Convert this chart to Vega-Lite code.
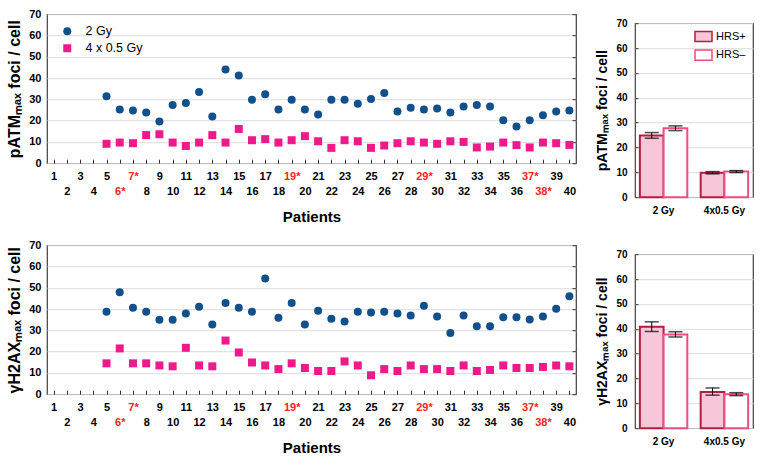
{
  "$schema": "https://vega.github.io/schema/vega-lite/v6.json",
  "padding": {"left": 6, "top": 7, "right": 0, "bottom": 0},
  "spacing": 13,
  "config": {
    "font": "Liberation Sans",
    "view": {"stroke": "#404040", "strokeWidth": 1.2},
    "axis": {
      "labelFont": "Liberation Sans",
      "labelFontWeight": "bold",
      "labelColor": "#000000",
      "labelOverlap": false,
      "titleFont": "Liberation Sans",
      "titleFontWeight": "bold",
      "titleColor": "#000000",
      "domain": false,
      "gridColor": "#dcdcdc",
      "tickColor": "#333333",
      "tickWidth": 1
    },
    "legend": {"labelFont": "Liberation Sans", "labelColor": "#000000"}
  },
  "datasets": {
    "patm": [
      {"p": 5, "single": 31.5, "fractionated": 9.1},
      {"p": 6, "single": 25.2, "fractionated": 9.7},
      {"p": 7, "single": 24.7, "fractionated": 9.4},
      {"p": 8, "single": 23.8, "fractionated": 13.2},
      {"p": 9, "single": 19.6, "fractionated": 13.6},
      {"p": 10, "single": 27.4, "fractionated": 9.7},
      {"p": 11, "single": 28.3, "fractionated": 8.1},
      {"p": 12, "single": 33.4, "fractionated": 9.7},
      {"p": 13, "single": 21.9, "fractionated": 13.2},
      {"p": 14, "single": 44.0, "fractionated": 9.7},
      {"p": 15, "single": 41.2, "fractionated": 16.1},
      {"p": 16, "single": 29.8, "fractionated": 10.8},
      {"p": 17, "single": 32.4, "fractionated": 11.3},
      {"p": 18, "single": 25.2, "fractionated": 9.7},
      {"p": 19, "single": 29.8, "fractionated": 10.8},
      {"p": 20, "single": 25.2, "fractionated": 12.7},
      {"p": 21, "single": 22.9, "fractionated": 10.3},
      {"p": 22, "single": 29.8, "fractionated": 7.2},
      {"p": 23, "single": 29.8, "fractionated": 10.8},
      {"p": 24, "single": 27.9, "fractionated": 10.3},
      {"p": 25, "single": 30.2, "fractionated": 7.2},
      {"p": 26, "single": 33.0, "fractionated": 8.3},
      {"p": 27, "single": 24.3, "fractionated": 9.4},
      {"p": 28, "single": 26.0, "fractionated": 10.3},
      {"p": 29, "single": 25.2, "fractionated": 9.7},
      {"p": 30, "single": 25.7, "fractionated": 9.1},
      {"p": 31, "single": 23.8, "fractionated": 10.3},
      {"p": 32, "single": 26.6, "fractionated": 10.0},
      {"p": 33, "single": 27.4, "fractionated": 7.4},
      {"p": 34, "single": 26.6, "fractionated": 7.8},
      {"p": 35, "single": 20.2, "fractionated": 9.7},
      {"p": 36, "single": 17.2, "fractionated": 8.5},
      {"p": 37, "single": 20.2, "fractionated": 7.4},
      {"p": 38, "single": 22.5, "fractionated": 9.7},
      {"p": 39, "single": 24.3, "fractionated": 9.4},
      {"p": 40, "single": 24.7, "fractionated": 8.6}
    ],
    "gh2ax": [
      {"p": 5, "single": 38.7, "fractionated": 14.5},
      {"p": 6, "single": 47.9, "fractionated": 21.5},
      {"p": 7, "single": 40.6, "fractionated": 14.5},
      {"p": 8, "single": 38.7, "fractionated": 14.5},
      {"p": 9, "single": 35.0, "fractionated": 13.5},
      {"p": 10, "single": 35.0, "fractionated": 13.1},
      {"p": 11, "single": 37.9, "fractionated": 21.8},
      {"p": 12, "single": 41.1, "fractionated": 13.5},
      {"p": 13, "single": 32.8, "fractionated": 13.1},
      {"p": 14, "single": 42.9, "fractionated": 25.2},
      {"p": 15, "single": 40.6, "fractionated": 19.6},
      {"p": 16, "single": 38.7, "fractionated": 14.9},
      {"p": 17, "single": 54.3, "fractionated": 13.5},
      {"p": 18, "single": 35.9, "fractionated": 11.8},
      {"p": 19, "single": 42.9, "fractionated": 14.5},
      {"p": 20, "single": 32.8, "fractionated": 12.3},
      {"p": 21, "single": 39.2, "fractionated": 10.9},
      {"p": 22, "single": 35.5, "fractionated": 10.9},
      {"p": 23, "single": 34.1, "fractionated": 15.4},
      {"p": 24, "single": 38.7, "fractionated": 13.5},
      {"p": 25, "single": 38.4, "fractionated": 8.9},
      {"p": 26, "single": 38.7, "fractionated": 11.8},
      {"p": 27, "single": 37.9, "fractionated": 10.9},
      {"p": 28, "single": 37.0, "fractionated": 13.5},
      {"p": 29, "single": 41.5, "fractionated": 11.8},
      {"p": 30, "single": 36.5, "fractionated": 11.8},
      {"p": 31, "single": 28.8, "fractionated": 10.9},
      {"p": 32, "single": 37.0, "fractionated": 13.5},
      {"p": 33, "single": 31.9, "fractionated": 10.9},
      {"p": 34, "single": 31.9, "fractionated": 11.4},
      {"p": 35, "single": 36.1, "fractionated": 13.5},
      {"p": 36, "single": 36.1, "fractionated": 12.3},
      {"p": 37, "single": 35.1, "fractionated": 12.3},
      {"p": 38, "single": 36.5, "fractionated": 12.8},
      {"p": 39, "single": 40.1, "fractionated": 13.5},
      {"p": 40, "single": 46.0, "fractionated": 13.1}
    ],
    "patmBars": [
      {"dose": "2 Gy", "group": "HRS+", "mean": 24.8, "lo": 23.7, "hi": 26.0},
      {"dose": "2 Gy", "group": "HRS–", "mean": 27.7, "lo": 26.8, "hi": 28.7},
      {"dose": "4x0.5 Gy", "group": "HRS+", "mean": 9.8, "lo": 9.4, "hi": 10.3},
      {"dose": "4x0.5 Gy", "group": "HRS–", "mean": 10.3, "lo": 9.9, "hi": 10.7}
    ],
    "gh2axBars": [
      {"dose": "2 Gy", "group": "HRS+", "mean": 40.8, "lo": 38.9, "hi": 42.8},
      {"dose": "2 Gy", "group": "HRS–", "mean": 37.7, "lo": 36.7, "hi": 38.8},
      {"dose": "4x0.5 Gy", "group": "HRS+", "mean": 14.6, "lo": 13.3, "hi": 16.2},
      {"dose": "4x0.5 Gy", "group": "HRS–", "mean": 13.7, "lo": 13.1, "hi": 14.3}
    ]
  },
  "vconcat": [
    {
      "spacing": 17,
      "center": true,
      "hconcat": [
        {
          "width": 529,
          "height": 149,
          "data": {"name": "patm"},
          "transform": [{"fold": ["single", "fractionated"], "as": ["dose", "v"]}],
          "encoding": {
            "x": {
              "field": "p", "type": "quantitative",
              "scale": {"domain": [0.5, 40.5], "nice": false, "zero": false},
              "axis": {
                "title": "Patients", "titleFontSize": 15, "titlePadding": 13,
                "values": [1,2,3,4,5,6,7,8,9,10,11,12,13,14,15,16,17,18,19,20,21,22,23,24,25,26,27,28,29,30,31,32,33,34,35,36,37,38,39,40],
                "grid": false, "offset": -4, "tickSize": 4, "labelPadding": 7, "labelFontSize": 11,
                "labelLineHeight": 15, "labelOverlap": false, "labelBound": false, "labelFlush": false,
                "labelExpr": "datum.value % 2 == 0 ? ['', datum.label + (indexof([6,7,19,29,37,38], datum.value) >= 0 ? '*' : '')] : datum.label + (indexof([6,7,19,29,37,38], datum.value) >= 0 ? '*' : '')",
                "labelColor": {"condition": {"test": "indexof([6,7,19,29,37,38], datum.value) >= 0", "value": "#ff2222"}, "value": "#000000"}
              }
            }
          },
          "layer": [
            {
              "mark": {"type": "point", "filled": true, "size": 64, "opacity": 1},
              "encoding": {
                "y": {
                  "field": "v", "type": "quantitative",
                  "scale": {"domain": [0, 70], "nice": false},
                  "axis": {
                    "title": "pATMₘₐₓ foci / cell", "titleFontSize": 16, "titlePadding": 6,
                    "values": [0, 10, 20, 30, 40, 50, 60, 70], "labelFontSize": 11,
                    "ticks": false, "labelPadding": 6
                  }
                },
                "color": {
                  "field": "dose", "type": "nominal",
                  "scale": {"domain": ["single", "fractionated"], "range": ["#11508a", "#ee1a8c"]},
                  "legend": {"orient": "none", "legendX": 14, "legendY": 11, "title": null, "padding": 0,
                    "labelFontSize": 12.5, "symbolSize": 64, "rowPadding": 4, "labelOffset": 12,
                    "labelExpr": "datum.label == 'single' ? '2 Gy' : '4 x 0.5 Gy'"}
                },
                "shape": {
                  "field": "dose", "type": "nominal",
                  "scale": {"domain": ["single", "fractionated"], "range": ["circle", "square"]},
                  "legend": {"orient": "none", "legendX": 14, "legendY": 11, "title": null, "padding": 0,
                    "labelFontSize": 12.5, "symbolSize": 64, "rowPadding": 4, "labelOffset": 12,
                    "labelExpr": "datum.label == 'single' ? '2 Gy' : '4 x 0.5 Gy'"}
                }
              }
            },
            {
              "mark": {"type": "point", "opacity": 0},
              "encoding": {
                "y": {
                  "field": "v", "type": "quantitative",
                  "axis": {"orient": "right", "labels": false, "title": null, "grid": false,
                    "values": [0, 10, 20, 30, 40, 50, 60, 70], "offset": -4, "tickSize": 4}
                }
              }
            }
          ],
          "resolve": {"axis": {"y": "independent"}}
        },
        {
          "width": 118,
          "height": 174,
          "data": {"name": "patmBars"},
          "encoding": {
            "x": {
              "field": "dose", "type": "nominal",
              "scale": {"domain": ["2 Gy", "4x0.5 Gy"], "paddingInner": 0.22, "paddingOuter": 0.08},
              "axis": {"title": null, "labelAngle": 0, "ticks": false, "labelFontSize": 10, "labelPadding": 8}
            },
            "xOffset": {"field": "group", "type": "nominal", "scale": {"domain": ["HRS+", "HRS–"], "paddingInner": 0, "paddingOuter": 0}}
          },
          "layer": [
            {
              "mark": {"type": "bar", "strokeWidth": 2},
              "encoding": {
                "y": {
                  "field": "mean", "type": "quantitative",
                  "scale": {"domain": [0, 70], "nice": false},
                  "axis": {"title": "pATMₘₐₓ foci / cell", "titleFontSize": 14, "titlePadding": 6,
                    "values": [0, 10, 20, 30, 40, 50, 60, 70], "labelFontSize": 10, "offset": -3, "tickSize": 3, "labelPadding": 8}
                },
                "fill": {
                  "field": "group", "type": "nominal",
                  "scale": {"domain": ["HRS+", "HRS–"], "range": ["#f7c6d8", "#ffffff"]},
                  "legend": {"orient": "none", "legendX": 647, "legendY": 13, "title": null, "padding": 0,
                    "symbolType": "M-1,-0.6H1V0.6H-1Z", "symbolSize": 289, "symbolStrokeWidth": 1.5,
                    "labelFontSize": 11, "labelOffset": 3, "rowPadding": 0.6}
                },
                "stroke": {
                  "field": "group", "type": "nominal",
                  "scale": {"domain": ["HRS+", "HRS–"], "range": ["#b81c40", "#ec4d84"]},
                  "legend": {"orient": "none", "legendX": 647, "legendY": 13, "title": null, "padding": 0,
                    "symbolType": "M-1,-0.6H1V0.6H-1Z", "symbolSize": 289, "symbolStrokeWidth": 1.5,
                    "labelFontSize": 11, "labelOffset": 3, "rowPadding": 0.6}
                }
              }
            },
            {
              "mark": {"type": "rule", "color": "#000000", "strokeWidth": 1},
              "encoding": {
                "y": {"field": "lo", "type": "quantitative", "scale": {"domain": [0, 70], "nice": false},
                  "axis": {"title": "pATMₘₐₓ foci / cell", "titleFontSize": 14, "titlePadding": 6,
                    "values": [0, 10, 20, 30, 40, 50, 60, 70], "labelFontSize": 10, "offset": -3, "tickSize": 3, "labelPadding": 8}},
                "y2": {"field": "hi"}
              }
            },
            {
              "mark": {"type": "tick", "color": "#000000", "thickness": 1.5, "size": 14, "orient": "horizontal"},
              "encoding": {
                "y": {"field": "lo", "type": "quantitative", "scale": {"domain": [0, 70], "nice": false},
                  "axis": {"title": "pATMₘₐₓ foci / cell", "titleFontSize": 14, "titlePadding": 6,
                    "values": [0, 10, 20, 30, 40, 50, 60, 70], "labelFontSize": 10, "offset": -3, "tickSize": 3, "labelPadding": 8}}
              }
            },
            {
              "mark": {"type": "tick", "color": "#000000", "thickness": 1.5, "size": 14, "orient": "horizontal"},
              "encoding": {
                "y": {"field": "hi", "type": "quantitative", "scale": {"domain": [0, 70], "nice": false},
                  "axis": {"title": "pATMₘₐₓ foci / cell", "titleFontSize": 14, "titlePadding": 6,
                    "values": [0, 10, 20, 30, 40, 50, 60, 70], "labelFontSize": 10, "offset": -3, "tickSize": 3, "labelPadding": 8}}
              }
            }
          ]
        }
      ]
    },
    {
      "spacing": 17,
      "center": true,
      "hconcat": [
        {
          "width": 529,
          "height": 149,
          "data": {"name": "gh2ax"},
          "transform": [{"fold": ["single", "fractionated"], "as": ["dose", "v"]}],
          "encoding": {
            "x": {
              "field": "p", "type": "quantitative",
              "scale": {"domain": [0.5, 40.5], "nice": false, "zero": false},
              "axis": {
                "title": "Patients", "titleFontSize": 15, "titlePadding": 13,
                "values": [1,2,3,4,5,6,7,8,9,10,11,12,13,14,15,16,17,18,19,20,21,22,23,24,25,26,27,28,29,30,31,32,33,34,35,36,37,38,39,40],
                "grid": false, "offset": -4, "tickSize": 4, "labelPadding": 7, "labelFontSize": 11,
                "labelLineHeight": 15, "labelOverlap": false, "labelBound": false, "labelFlush": false,
                "labelExpr": "datum.value % 2 == 0 ? ['', datum.label + (indexof([6,7,19,29,37,38], datum.value) >= 0 ? '*' : '')] : datum.label + (indexof([6,7,19,29,37,38], datum.value) >= 0 ? '*' : '')",
                "labelColor": {"condition": {"test": "indexof([6,7,19,29,37,38], datum.value) >= 0", "value": "#ff2222"}, "value": "#000000"}
              }
            }
          },
          "layer": [
            {
              "mark": {"type": "point", "filled": true, "size": 64, "opacity": 1},
              "encoding": {
                "y": {
                  "field": "v", "type": "quantitative",
                  "scale": {"domain": [0, 70], "nice": false},
                  "axis": {
                    "title": "γH2AXₘₐₓ foci / cell", "titleFontSize": 16, "titlePadding": 6,
                    "values": [0, 10, 20, 30, 40, 50, 60, 70], "labelFontSize": 11,
                    "ticks": false, "labelPadding": 6
                  }
                },
                "color": {
                  "field": "dose", "type": "nominal",
                  "scale": {"domain": ["single", "fractionated"], "range": ["#11508a", "#ee1a8c"]},
                  "legend": {"orient": "none", "legendX": 14, "legendY": 11, "title": null, "padding": 0,
                    "labelFontSize": 12.5, "symbolSize": 64, "rowPadding": 4, "labelOffset": 12,
                    "labelExpr": "datum.label == 'single' ? '2 Gy' : '4 x 0.5 Gy'"}
                },
                "shape": {
                  "field": "dose", "type": "nominal",
                  "scale": {"domain": ["single", "fractionated"], "range": ["circle", "square"]},
                  "legend": {"orient": "none", "legendX": 14, "legendY": 11, "title": null, "padding": 0,
                    "labelFontSize": 12.5, "symbolSize": 64, "rowPadding": 4, "labelOffset": 12,
                    "labelExpr": "datum.label == 'single' ? '2 Gy' : '4 x 0.5 Gy'"}
                }
              }
            },
            {
              "mark": {"type": "point", "opacity": 0},
              "encoding": {
                "y": {
                  "field": "v", "type": "quantitative",
                  "axis": {"orient": "right", "labels": false, "title": null, "grid": false,
                    "values": [0, 10, 20, 30, 40, 50, 60, 70], "offset": -4, "tickSize": 4}
                }
              }
            }
          ],
          "resolve": {"axis": {"y": "independent"}}
        },
        {
          "width": 118,
          "height": 174,
          "data": {"name": "gh2axBars"},
          "encoding": {
            "x": {
              "field": "dose", "type": "nominal",
              "scale": {"domain": ["2 Gy", "4x0.5 Gy"], "paddingInner": 0.22, "paddingOuter": 0.08},
              "axis": {"title": null, "labelAngle": 0, "ticks": false, "labelFontSize": 10, "labelPadding": 8}
            },
            "xOffset": {"field": "group", "type": "nominal", "scale": {"domain": ["HRS+", "HRS–"], "paddingInner": 0, "paddingOuter": 0}}
          },
          "layer": [
            {
              "mark": {"type": "bar", "strokeWidth": 2},
              "encoding": {
                "y": {
                  "field": "mean", "type": "quantitative",
                  "scale": {"domain": [0, 70], "nice": false},
                  "axis": {"title": "γH2AXₘₐₓ foci / cell", "titleFontSize": 14, "titlePadding": 6,
                    "values": [0, 10, 20, 30, 40, 50, 60, 70], "labelFontSize": 10, "offset": -3, "tickSize": 3, "labelPadding": 8}
                },
                "fill": {
                  "field": "group", "type": "nominal",
                  "scale": {"domain": ["HRS+", "HRS–"], "range": ["#f7c6d8", "#ffffff"]},
                  "legend": {"orient": "none", "legendX": 647, "legendY": 16, "title": null, "padding": 0,
                    "symbolType": "M-1,-0.6H1V0.6H-1Z", "symbolSize": 289, "symbolStrokeWidth": 1.5,
                    "labelFontSize": 11, "labelOffset": 3, "rowPadding": 0.6}
                },
                "stroke": {
                  "field": "group", "type": "nominal",
                  "scale": {"domain": ["HRS+", "HRS–"], "range": ["#b81c40", "#ec4d84"]},
                  "legend": {"orient": "none", "legendX": 647, "legendY": 16, "title": null, "padding": 0,
                    "symbolType": "M-1,-0.6H1V0.6H-1Z", "symbolSize": 289, "symbolStrokeWidth": 1.5,
                    "labelFontSize": 11, "labelOffset": 3, "rowPadding": 0.6}
                }
              }
            },
            {
              "mark": {"type": "rule", "color": "#000000", "strokeWidth": 1},
              "encoding": {
                "y": {"field": "lo", "type": "quantitative", "scale": {"domain": [0, 70], "nice": false},
                  "axis": {"title": "γH2AXₘₐₓ foci / cell", "titleFontSize": 14, "titlePadding": 6,
                    "values": [0, 10, 20, 30, 40, 50, 60, 70], "labelFontSize": 10, "offset": -3, "tickSize": 3, "labelPadding": 8}},
                "y2": {"field": "hi"}
              }
            },
            {
              "mark": {"type": "tick", "color": "#000000", "thickness": 1.5, "size": 14, "orient": "horizontal"},
              "encoding": {
                "y": {"field": "lo", "type": "quantitative", "scale": {"domain": [0, 70], "nice": false},
                  "axis": {"title": "γH2AXₘₐₓ foci / cell", "titleFontSize": 14, "titlePadding": 6,
                    "values": [0, 10, 20, 30, 40, 50, 60, 70], "labelFontSize": 10, "offset": -3, "tickSize": 3, "labelPadding": 8}}
              }
            },
            {
              "mark": {"type": "tick", "color": "#000000", "thickness": 1.5, "size": 14, "orient": "horizontal"},
              "encoding": {
                "y": {"field": "hi", "type": "quantitative", "scale": {"domain": [0, 70], "nice": false},
                  "axis": {"title": "γH2AXₘₐₓ foci / cell", "titleFontSize": 14, "titlePadding": 6,
                    "values": [0, 10, 20, 30, 40, 50, 60, 70], "labelFontSize": 10, "offset": -3, "tickSize": 3, "labelPadding": 8}}
              }
            }
          ]
        }
      ]
    }
  ]
}
